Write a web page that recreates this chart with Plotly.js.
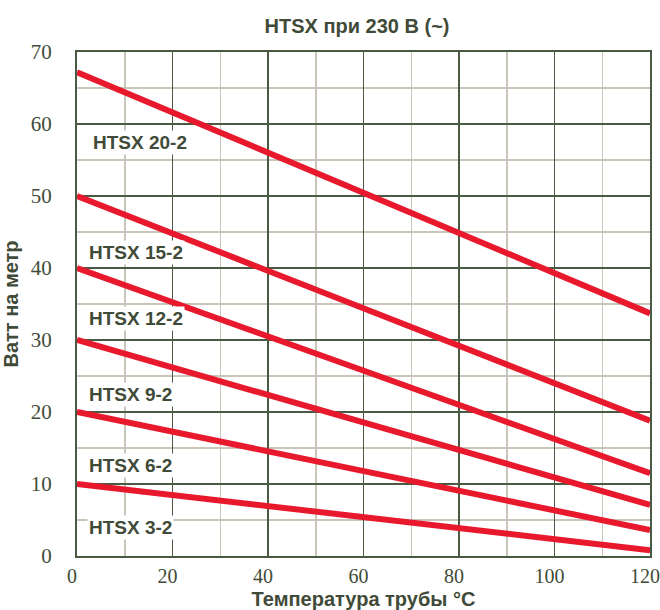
<!DOCTYPE html>
<html>
<head>
<meta charset="utf-8">
<script src="https://cdn.plot.ly/plotly-3.0.1.min.js"></script>
<style>html,body{margin:0;padding:0;background:#fff;}#chart{width:660px;height:610px;}</style>
</head>
<body>
<div id="chart"></div>
<script>
// Data
const temperatures = [0, 120];
const seriesNames = ["HTSX 20-2", "HTSX 15-2", "HTSX 12-2", "HTSX 9-2", "HTSX 6-2", "HTSX 3-2"];
const htsx20 = [67.2, 33.7];
const htsx15 = [50, 18.8];
const htsx12 = [40, 11.5];
const htsx9 = [30, 7.1];
const htsx6 = [20, 3.6];
const htsx3 = [10, 0.8];
const labelX = [3, 2, 2, 2, 2, 2];
const labelY = [57.5, 42.1, 33.0, 22.4, 12.6, 3.9];

const allSeries = [htsx20, htsx15, htsx12, htsx9, htsx6, htsx3];
const textColor = "#3f4b38";
const lineColor = "#e8192c";
const sansBold = "Liberation Sans";
const serif = "Times New Roman, serif";

const traces = allSeries.map((vals, i) => ({
  x: temperatures, y: vals, name: seriesNames[i], type: "scatter", mode: "lines",
  line: {color: lineColor, width: 6}, hoverinfo: "x+y+name"
}));

const annotations = seriesNames.map((n, i) => ({
  text: n, x: labelX[i], y: labelY[i], xref: "x", yref: "y",
  xanchor: "left", yanchor: "middle", showarrow: false, bgcolor: "#ffffff",
  borderpad: 1,
  font: {family: sansBold, size: 19, weight: 700, color: textColor}
}));

const layout = {
  width: 660, height: 610,
  margin: {l: 77, r: 10, t: 52, b: 54},
  paper_bgcolor: "#fff", plot_bgcolor: "#fff",
  showlegend: false,
  title: {text: "HTSX при 230 В (~)", x: 0.541, xanchor: "center", y: 0.957, yanchor: "middle",
    font: {family: sansBold, size: 20, weight: 700, color: textColor}},
  xaxis: {
    range: [0, 120], dtick: 20, tick0: 0, showgrid: true, gridcolor: "#4a5a42", gridwidth: 1.5,
    minor: {dtick: 10, showgrid: true, gridcolor: "#c9c5b9", gridwidth: 1.5},
    showline: true, linecolor: "#4a5a42", linewidth: 2, mirror: true, zeroline: false,
    ticks: "", ticklabelstandoff: 1, ticklabelshift: -5, ticklabeloverflow: "allow",
    tickfont: {family: serif, size: 20, color: textColor},
    title: {text: "Температура трубы °C", standoff: 9,
      font: {family: sansBold, size: 20, weight: 700, color: textColor}}
  },
  yaxis: {
    range: [0, 70], dtick: 10, tick0: 0, showgrid: true, gridcolor: "#4a5a42", gridwidth: 1.5,
    minor: {dtick: 5, showgrid: true, gridcolor: "#c9c5b9", gridwidth: 1.5},
    showline: true, linecolor: "#4a5a42", linewidth: 2, mirror: true, zeroline: false,
    ticks: "", ticklabelstandoff: 19,
    tickfont: {family: serif, size: 21, color: textColor},
    title: {text: "Ватт на метр", standoff: 10,
      font: {family: sansBold, size: 20, weight: 700, color: textColor}}
  },
  annotations: annotations
};

Plotly.newPlot("chart", traces, layout, {displayModeBar: false, staticPlot: true});
</script>
</body>
</html>
